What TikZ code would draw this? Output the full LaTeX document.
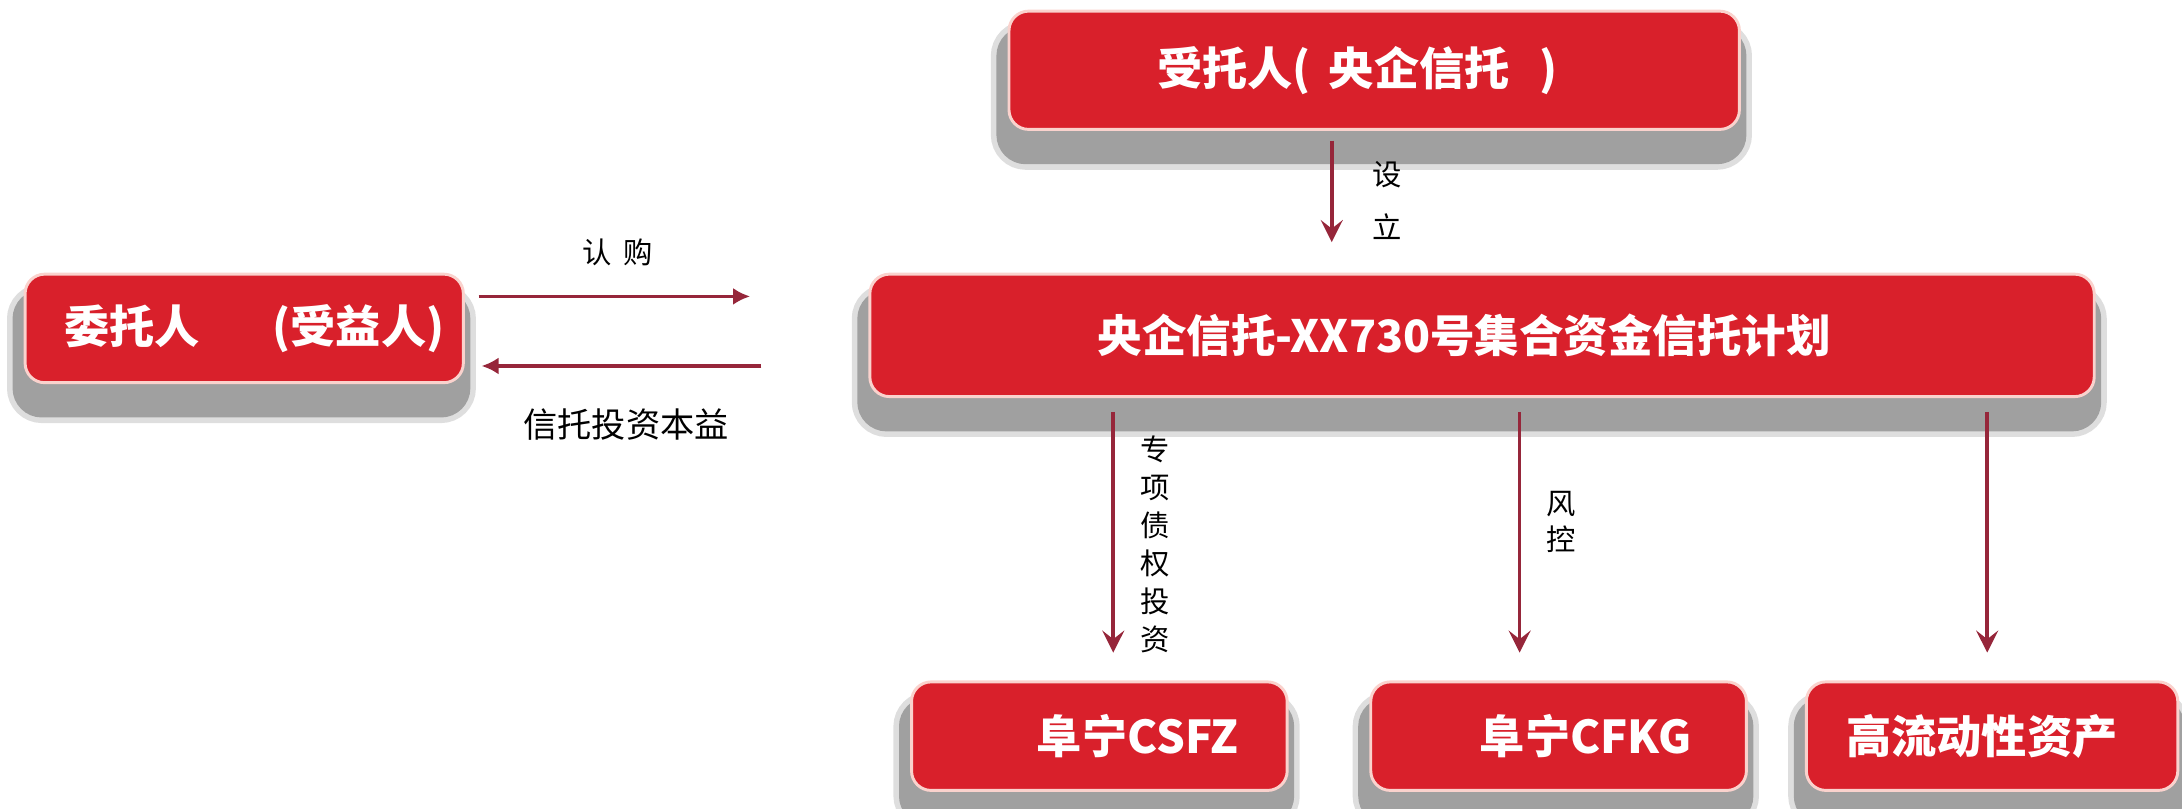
\documentclass[tikz,border=0pt]{standalone}
\usepackage{fontspec}
\setmainfont{Noto Sans CJK SC}
\usetikzlibrary{calc}
\usetikzlibrary{arrows.meta}

\definecolor{boxred}{RGB}{217,32,43}
\definecolor{linkred}{RGB}{150,38,58}
\definecolor{rimpink}{RGB}{250,210,205}
\definecolor{shade}{RGB}{160,160,160}

\tikzset{
 redbox/.style={rectangle, rounded corners=8pt, fill=boxred, draw=rimpink, line width=1.2pt, text=white,
   font=\bfseries\fontsize{18.5}{22}\selectfont,
   preaction={fill=shade!35, draw=shade!35, line width=0.44cm, transform canvas={xshift=-0.04cm, yshift=-0.36cm}},
   preaction={fill=shade, draw=shade, line width=0.28cm, transform canvas={xshift=-0.04cm, yshift=-0.36cm}}},
 link/.style={linkred, line width=1.5pt, -{Stealth[length=9pt, width=9pt, inset=3.5pt]}},
 flat/.style={-{Latex[length=7pt, width=7pt]}},
 tag/.style={font=\fontsize{12}{15.5}\selectfont, align=center, inner sep=0pt}
}

\begin{document}
\begin{tikzpicture}[x=0.02cm, y=-0.02cm]
\useasboundingbox (0,0) rectangle (1568,581);
\node[redbox, minimum width=10.5cm, minimum height=1.7cm] (trustee) at (987.5,50.5) {受托人(\hspace{.4em}央企信托\hspace{.65em})\kern.75em};
\node[redbox, minimum width=6.3cm, minimum height=1.56cm] (settlor) at (175.5,236) {\kern.45em委托人\hspace{1.6em}(受益人)};
\node[redbox, minimum width=17.6cm, minimum height=1.76cm, font=\bfseries\fontsize{18.2}{22}\selectfont] (plan) at (1065,241) {央企信托-XX730号集合资金信托计划\kern.8em};
\node[redbox, minimum width=5.4cm, minimum height=1.56cm] (csfz) at (790,529) {\hspace{1.7em}阜宁CSFZ};
\node[redbox, minimum width=5.4cm, minimum height=1.56cm] (cfkg) at (1120,529) {\hspace{1.2em}阜宁CFKG};
\node[redbox, minimum width=5.34cm, minimum height=1.56cm] (liquid) at (1431.5,529) {高流动性资产\kern.45em};

\draw[link, flat, shorten <=0.2cm, shorten >=1.7cm] ([yshift=0.46cm]settlor.east) -- ([yshift=0.46cm]settlor.east -| plan.west);
\draw[link, flat, shorten <=1.54cm, shorten >=0.24cm] ([yshift=-0.54cm]settlor.east -| plan.west) -- ([yshift=-0.54cm]settlor.east);
\draw[link, shorten <=0.14cm, shorten >=0.44cm] ([xshift=-0.61cm]trustee.south) -- ([xshift=-0.61cm]trustee.south |- plan.north);
\foreach \tgt/\dx in {csfz/0.2cm, cfkg/-0.56cm, liquid/-0.07cm}
 \draw[link, shorten <=0.2cm, shorten >=0.4cm] ([xshift=\dx]\tgt.north |- plan.south) -- ([xshift=\dx]\tgt.north);

\node[tag] (buy) at (444,181) {认\hspace{.4em}购};
\node[tag, font=\fontsize{14}{17}\selectfont] (yield) at (450,305) {信托投资本益};
\node[tag, font=\fontsize{12}{21.6}\selectfont] (setup) at (997,144) {设\\立};
\node[tag] (debt) at (830,391) {专\\项\\债\\权\\投\\资};
\node[tag, font=\fontsize{12}{14.8}\selectfont] (risk) at (1122,375) {风\\控};
\end{tikzpicture}
\end{document}
